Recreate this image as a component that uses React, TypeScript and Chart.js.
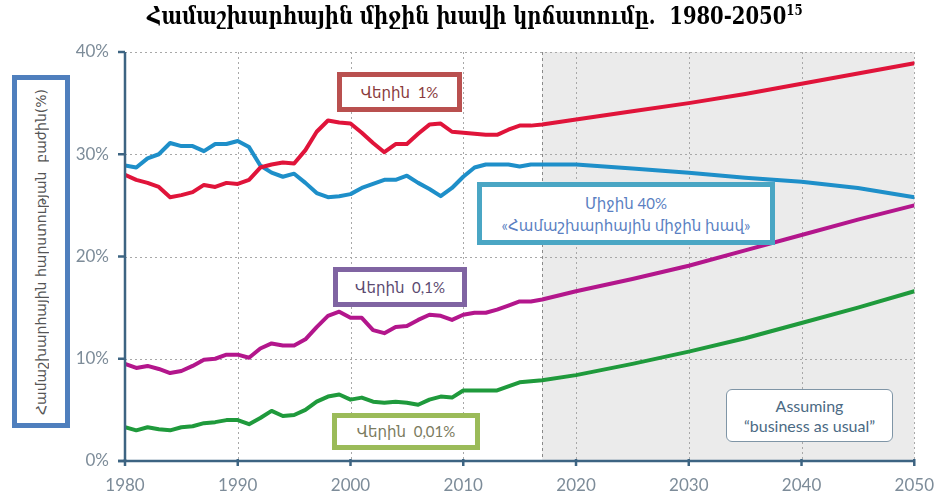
import React, { useEffect, useRef } from "react";
import { Chart, registerables } from "chart.js";

Chart.register(...registerables);

const histYears = [
  1980, 1981, 1982, 1983, 1984, 1985, 1986, 1987, 1988, 1989,
  1990, 1991, 1992, 1993, 1994, 1995, 1996, 1997, 1998, 1999,
  2000, 2001, 2002, 2003, 2004, 2005, 2006, 2007, 2008, 2009,
  2010, 2011, 2012, 2013, 2014, 2015, 2016, 2017,
];
const projYears = [2020, 2025, 2030, 2035, 2040, 2045, 2050];

const top1Hist = [
  28.0, 27.5, 27.2, 26.8, 25.8, 26.0, 26.3, 27.0, 26.8, 27.2,
  27.1, 27.5, 28.7, 29.0, 29.2, 29.1, 30.4, 32.2, 33.3, 33.1,
  33.0, 32.1, 31.1, 30.2, 31.0, 31.0, 32.0, 32.9, 33.0, 32.2,
  32.1, 32.0, 31.9, 31.9, 32.4, 32.8, 32.8, 32.9,
];
const top1Proj = [33.4, 34.2, 35.0, 35.9, 36.9, 37.9, 38.9];

const mid40Hist = [
  28.9, 28.7, 29.6, 30.0, 31.1, 30.8, 30.8, 30.3, 31.0, 31.0,
  31.3, 30.7, 28.9, 28.2, 27.8, 28.1, 27.2, 26.2, 25.8, 25.9,
  26.1, 26.7, 27.1, 27.5, 27.5, 27.9, 27.2, 26.6, 25.9, 26.7,
  27.8, 28.7, 29.0, 29.0, 29.0, 28.8, 29.0, 29.0,
];
const mid40Proj = [29.0, 28.6, 28.2, 27.7, 27.3, 26.7, 25.8];

const top01Hist = [
  9.5, 9.1, 9.3, 9.0, 8.6, 8.8, 9.3, 9.9, 10.0, 10.4,
  10.4, 10.1, 11.0, 11.5, 11.3, 11.3, 11.9, 13.1, 14.2, 14.6,
  14.0, 14.0, 12.8, 12.5, 13.1, 13.2, 13.8, 14.3, 14.2, 13.8,
  14.3, 14.5, 14.5, 14.8, 15.2, 15.6, 15.6, 15.8,
];
const top01Proj = [16.6, 17.8, 19.1, 20.6, 22.1, 23.6, 25.0];

const top001Hist = [
  3.3, 3.0, 3.3, 3.1, 3.0, 3.3, 3.4, 3.7, 3.8, 4.0,
  4.0, 3.6, 4.2, 4.9, 4.4, 4.5, 5.0, 5.8, 6.3, 6.5,
  6.0, 6.2, 5.8, 5.7, 5.8, 5.7, 5.5, 6.0, 6.3, 6.2,
  6.9, 6.9, 6.9, 6.9, 7.3, 7.7, 7.8, 7.9,
];
const top001Proj = [8.4, 9.5, 10.7, 12.0, 13.5, 15.0, 16.6];

const xTicks = [1980, 1990, 2000, 2010, 2020, 2030, 2040, 2050];
const yTicks = [0, 10, 20, 30, 40];
const projectionStart = 2017;

const seriesNames = ["Վերին 1%", "Միջին 40%", "Վերին 0,1%", "Վերին 0,01%"];

const toPoints = (hist: number[], proj: number[]) =>
  [...histYears.map((yr, i) => ({ x: yr, y: hist[i] })), ...projYears.map((yr, i) => ({ x: yr, y: proj[i] }))];

const backgroundPlugin = {
  id: "bgDecor",
  beforeDatasetsDraw(chart: any) {
    const { ctx, chartArea, scales } = chart;
    const { left, right, top, bottom } = chartArea;
    const x = scales.x;
    const y = scales.y;
    ctx.save();
    const xs = x.getPixelForValue(projectionStart);
    ctx.fillStyle = "#ebebeb";
    ctx.fillRect(xs, top, right - xs, bottom - top);
    ctx.strokeStyle = "#a8a8a8";
    ctx.lineWidth = 1;
    ctx.setLineDash([2, 3]);
    yTicks.forEach((v) => {
      if (v === 0) return;
      const py = Math.round(y.getPixelForValue(v)) + 0.5;
      ctx.beginPath();
      ctx.moveTo(left, py);
      ctx.lineTo(right, py);
      ctx.stroke();
    });
    xTicks.forEach((v) => {
      if (v === xTicks[0]) return;
      const px = Math.round(x.getPixelForValue(v)) + 0.5;
      ctx.beginPath();
      ctx.moveTo(px, top);
      ctx.lineTo(px, bottom);
      ctx.stroke();
    });
    ctx.strokeStyle = "#8a8a8a";
    ctx.setLineDash([3, 3]);
    ctx.beginPath();
    ctx.moveTo(Math.round(xs) + 0.5, top);
    ctx.lineTo(Math.round(xs) + 0.5, bottom);
    ctx.stroke();
    ctx.restore();
  },
  afterDatasetsDraw(chart: any) {
    const { ctx, chartArea, scales } = chart;
    const { left, right, top, bottom } = chartArea;
    const x = scales.x;
    const y = scales.y;
    ctx.save();
    ctx.strokeStyle = "#3d6482";
    ctx.lineWidth = 2.5;
    ctx.beginPath();
    ctx.moveTo(left, top);
    ctx.lineTo(left, bottom);
    ctx.moveTo(left - 7, bottom);
    ctx.lineTo(right, bottom);
    ctx.stroke();
    yTicks.forEach((v) => {
      const py = y.getPixelForValue(v);
      ctx.beginPath();
      ctx.moveTo(left - 7, py);
      ctx.lineTo(left, py);
      ctx.stroke();
    });
    xTicks.forEach((v) => {
      const px = x.getPixelForValue(v);
      ctx.beginPath();
      ctx.moveTo(px, bottom - 2);
      ctx.lineTo(px, bottom + 5);
      ctx.stroke();
    });
    ctx.restore();
  },
};

const boxBase: React.CSSProperties = {
  position: "absolute",
  boxSizing: "border-box",
  background: "#ffffff",
  display: "flex",
  flexDirection: "column",
  alignItems: "center",
  justifyContent: "center",
  fontFamily: "Lato, 'DejaVu Sans', sans-serif",
  whiteSpace: "nowrap",
};

export default function App() {
  const canvasRef = useRef<HTMLCanvasElement | null>(null);

  useEffect(() => {
    document.body.style.margin = "0";
    const canvas = canvasRef.current;
    if (!canvas) return;
    const chart = new Chart(canvas, {
      type: "line",
      data: {
        datasets: [
          { label: seriesNames[0], data: toPoints(top1Hist, top1Proj), borderColor: "#e0143a" },
          { label: seriesNames[1], data: toPoints(mid40Hist, mid40Proj), borderColor: "#1e8fc9" },
          { label: seriesNames[2], data: toPoints(top01Hist, top01Proj), borderColor: "#b3168c" },
          { label: seriesNames[3], data: toPoints(top001Hist, top001Proj), borderColor: "#1f9a3c" },
        ].map((d) => ({
          ...d,
          borderWidth: 4,
          pointRadius: 0,
          tension: 0,
          fill: false,
          borderJoinStyle: "round" as const,
          borderCapStyle: "round" as const,
        })),
      },
      options: {
        animation: false,
        responsive: false,
        maintainAspectRatio: false,
        layout: { padding: { left: 0, right: 25, top: 52, bottom: 0 } },
        plugins: { legend: { display: false }, tooltip: { enabled: false }, title: { display: false } },
        scales: {
          x: {
            type: "linear",
            min: 1980,
            max: 2050,
            grid: { display: false, drawTicks: false },
            border: { display: false },
            afterFit: (axis: any) => {
              axis.height = 34;
            },
            afterBuildTicks: (axis: any) => {
              axis.ticks = xTicks.map((v) => ({ value: v }));
            },
            ticks: {
              padding: 14,
              color: "#7d8c99",
              font: { family: "Lato", size: 17 },
              maxRotation: 0,
              autoSkip: false,
              callback: (v: any) => String(v),
            },
          },
          y: {
            min: 0,
            max: 40,
            grid: { display: false, drawTicks: false },
            border: { display: false },
            afterFit: (axis: any) => {
              axis.width = 125;
            },
            afterBuildTicks: (axis: any) => {
              axis.ticks = yTicks.map((v) => ({ value: v }));
            },
            ticks: {
              padding: 16,
              color: "#7d8c99",
              font: { family: "Lato", size: 17 },
              callback: (v: any) => `${v}%`,
            },
          },
        },
      },
      plugins: [backgroundPlugin],
    });
    return () => chart.destroy();
  }, []);

  return (
    <div style={{ position: "absolute", left: 0, top: 0, width: 948, height: 495, background: "#fff", overflow: "hidden" }}>
      <canvas ref={canvasRef} width={948} height={495} style={{ position: "absolute", left: 0, top: 0, width: 948, height: 495 }} />
      <div
        style={{
          position: "absolute",
          left: 147,
          top: 1,
          fontFamily: "'DejaVu Serif Condensed', 'DejaVu Serif', serif",
          fontWeight: "bold",
          fontSize: 25,
          color: "#000",
          whiteSpace: "nowrap",
          transform: "scaleX(0.87)",
          transformOrigin: "0 0",
        }}
      >
        Համաշխարհային միջին խավի կրճատումը.&nbsp; 1980-2050<sup style={{ fontSize: 15 }}>15</sup>
      </div>
      <div
        style={{
          position: "absolute",
          left: 12,
          top: 75,
          width: 58,
          height: 353,
          border: "5px solid #4f7fbd",
          boxSizing: "border-box",
          display: "flex",
          alignItems: "center",
          justifyContent: "center",
          background: "#fff",
        }}
      >
        <div
          style={{
            writingMode: "vertical-rl",
            transform: "rotate(180deg)",
            fontFamily: "'DejaVu Sans', sans-serif",
            fontSize: 14,
            color: "#555",
            whiteSpace: "nowrap",
          }}
        >
          Համաշխարհային հարստության&nbsp; բաժին(%)
        </div>
      </div>
      <div style={{ ...boxBase, left: 337, top: 72, width: 125, height: 40, border: "5px solid #b9504f", color: "#8a3a3c", fontSize: 15 }}>
        Վերին&nbsp; 1%
      </div>
      <div style={{ ...boxBase, left: 477, top: 182, width: 298, height: 63, border: "5px solid #4aa6c4", color: "#5a7fc2", fontSize: 15, lineHeight: "22px" }}>
        <div>Միջին 40%</div>
        <div>«Համաշխարհային միջին խավ»</div>
      </div>
      <div style={{ ...boxBase, left: 333, top: 267, width: 134, height: 40, border: "5px solid #8064a2", color: "#5b4a70", fontSize: 15 }}>
        Վերին&nbsp; 0,1%
      </div>
      <div style={{ ...boxBase, left: 332, top: 413, width: 148, height: 37, border: "5px solid #9bbb59", color: "#7b7b5e", fontSize: 15 }}>
        Վերին&nbsp; 0,01%
      </div>
      <div
        style={{
          ...boxBase,
          left: 726,
          top: 389,
          width: 167,
          height: 53,
          border: "1px solid #7f95a6",
          borderRadius: 6,
          color: "#4b6a84",
          fontSize: 16,
          lineHeight: "20px",
        }}
      >
        <div>Assuming</div>
        <div>“business as usual”</div>
      </div>
    </div>
  );
}
